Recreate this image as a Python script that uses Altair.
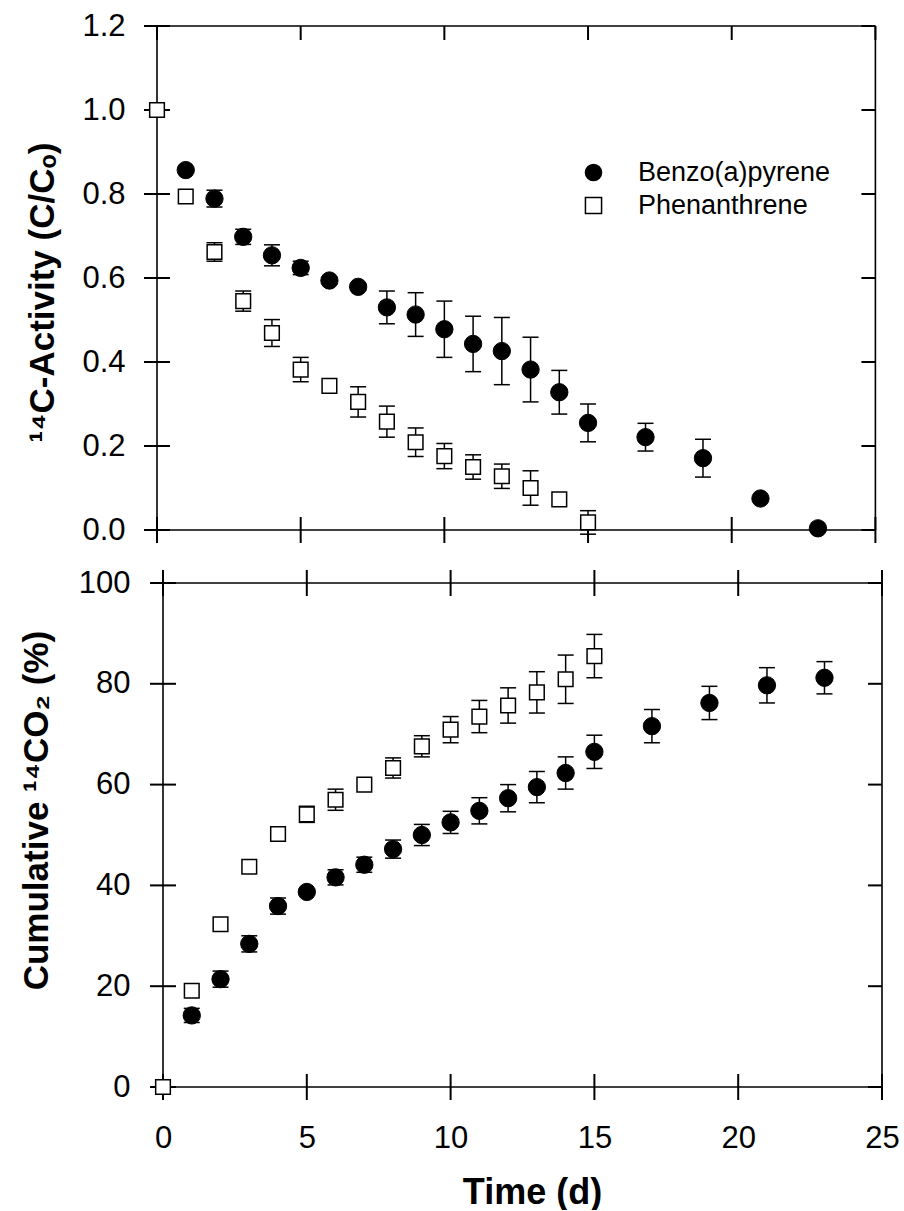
import altair as alt
import pandas as pd

SERIES = ["Benzo(a)pyrene", "Phenanthrene"]

# ---- top panel: 14C-activity (C/Co) ----
bap_top_days = [1, 2, 3, 4, 5, 6, 7, 8, 9, 10, 11, 12, 13, 14, 15, 17, 19, 21, 23]
bap_top_val = [0.857, 0.789, 0.698, 0.654, 0.624, 0.594, 0.579, 0.530, 0.513, 0.478,
               0.443, 0.426, 0.382, 0.328, 0.255, 0.221, 0.171, 0.075, 0.004]
bap_top_err = [0, 0.02, 0.018, 0.025, 0.016, 0.008, 0.008, 0.039, 0.052, 0.067,
               0.066, 0.080, 0.077, 0.052, 0.045, 0.033, 0.045, 0, 0]
phe_top_days = [0, 1, 2, 3, 4, 5, 6, 7, 8, 9, 10, 11, 12, 13, 14, 15]
phe_top_val = [1.0, 0.794, 0.662, 0.545, 0.469, 0.382, 0.343, 0.305, 0.258, 0.209,
               0.176, 0.150, 0.128, 0.100, 0.073, 0.018]
phe_top_err = [0, 0, 0.022, 0.024, 0.032, 0.029, 0, 0.036, 0.037, 0.034,
               0.030, 0.029, 0.029, 0.041, 0, 0.028]

# ---- bottom panel: cumulative 14CO2 (%) ----
bap_bot_days = [1, 2, 3, 4, 5, 6, 7, 8, 9, 10, 11, 12, 13, 14, 15, 17, 19, 21, 23]
bap_bot_val = [14.2, 21.4, 28.4, 35.9, 38.7, 41.6, 44.1, 47.2, 50.0, 52.5,
               54.8, 57.3, 59.5, 62.3, 66.5, 71.6, 76.2, 79.7, 81.2]
bap_bot_err = [1.4, 1.6, 1.6, 1.6, 0, 1.5, 1.5, 1.8, 2.1, 2.2,
               2.6, 2.7, 3.1, 3.2, 3.3, 3.3, 3.3, 3.5, 3.2]
phe_bot_days = [0, 1, 2, 3, 4, 5, 6, 7, 8, 9, 10, 11, 12, 13, 14, 15]
phe_bot_val = [0, 19.1, 32.3, 43.7, 50.2, 54.1, 57.0, 60.0, 63.3, 67.6,
               70.9, 73.5, 75.7, 78.3, 80.9, 85.5]
phe_bot_err = [0, 0, 0, 0, 0, 1.6, 2.1, 0, 2.0, 2.1, 2.6, 3.2, 3.5, 4.1, 4.8, 4.3]

x_ticks = [0, 5, 10, 15, 20, 25]
top_y_ticks = [0.0, 0.2, 0.4, 0.6, 0.8, 1.0, 1.2]
bot_y_ticks = [0, 20, 40, 60, 80, 100]

FONT = "Liberation Sans"
W, H = 725, 504

shape_scale = alt.Scale(domain=SERIES, range=["circle", "square"])
fill_scale = alt.Scale(domain=SERIES, range=["black", "white"])
stroke_scale = alt.Scale(domain=SERIES, range=["black", "black"])


def frame_df(ymax):
    return pd.DataFrame({
        "day": [0, 25, 0, 0], "day2": [0, 25, 25, 25],
        "value": [0, 0, 0, ymax], "value2": [ymax, ymax, 0, ymax],
    })


def make_df(days, vals, errs, series):
    df = pd.DataFrame({"day": days, "value": vals, "err": errs})
    df["lo"] = df["value"] - df["err"]
    df["hi"] = df["value"] + df["err"]
    df["series"] = series
    return df


def panel(bap, phe, ymax, yticks, xrange, yaxis, xaxis, legend, top_cross):
    xs = alt.Scale(domain=[0, 25], range=xrange, nice=False, zero=False)
    ys = alt.Scale(domain=[0, ymax], nice=False, zero=False)
    X = lambda f="day": alt.X(f"{f}:Q", scale=xs, axis=xaxis)
    Y = lambda f="value": alt.Y(f"{f}:Q", scale=ys, axis=yaxis)

    layers = []
    # frame
    layers.append(alt.Chart(frame_df(ymax)).mark_rule(color="black", strokeWidth=1.6)
                  .encode(x=X(), x2="day2:Q", y=Y(), y2="value2:Q"))
    # left ticks (crossing)
    left = pd.DataFrame({"day": [0] * len(yticks), "value": yticks})
    layers.append(alt.Chart(left).mark_rule(color="black", strokeWidth=2, xOffset=-13, x2Offset=13)
                  .encode(x=X(), x2="day:Q", y=Y()))
    # right ticks (inward)
    right = pd.DataFrame({"day": [25] * len(yticks), "value": yticks})
    layers.append(alt.Chart(right).mark_rule(color="black", strokeWidth=2, xOffset=-14, x2Offset=0)
                  .encode(x=X(), x2="day:Q", y=Y()))
    # bottom ticks (crossing)
    bot = pd.DataFrame({"day": x_ticks, "value": [0] * len(x_ticks)})
    layers.append(alt.Chart(bot).mark_rule(color="black", strokeWidth=2, yOffset=-13, y2Offset=13)
                  .encode(x=X(), y=Y(), y2="value:Q"))
    # top ticks
    top = pd.DataFrame({"day": x_ticks, "value": [ymax] * len(x_ticks)})
    if top_cross:
        layers.append(alt.Chart(top).mark_rule(color="black", strokeWidth=2, yOffset=-13, y2Offset=13)
                      .encode(x=X(), y=Y(), y2="value:Q"))
    else:
        layers.append(alt.Chart(top).mark_rule(color="black", strokeWidth=2, yOffset=0, y2Offset=14)
                      .encode(x=X(), y=Y(), y2="value:Q"))

    for df in (bap, phe):
        eb = df[df["err"] > 0]
        layers.append(alt.Chart(eb).mark_rule(color="black", strokeWidth=1.5)
                      .encode(x=X(), y=Y("lo"), y2="hi:Q"))
        layers.append(alt.Chart(eb).mark_rule(color="black", strokeWidth=1.5, xOffset=-8, x2Offset=8)
                      .encode(x=X(), x2="day:Q", y=Y("lo")))
        layers.append(alt.Chart(eb).mark_rule(color="black", strokeWidth=1.5, xOffset=-8, x2Offset=8)
                      .encode(x=X(), x2="day:Q", y=Y("hi")))

    for df, size, sw in ((bap, 300, 1), (phe, 215, 1.5)):
        layers.append(alt.Chart(df).mark_point(size=size, strokeWidth=sw,
                                                opacity=1, fillOpacity=1)
                      .encode(x=X(), y=Y(),
                              shape=alt.Shape("series:N", scale=shape_scale, legend=legend),
                              fill=alt.Fill("series:N", scale=fill_scale, legend=legend),
                              stroke=alt.Stroke("series:N", scale=stroke_scale, legend=legend)))
    return alt.layer(*layers).properties(width=W, height=H)


bap_t = make_df(bap_top_days, bap_top_val, bap_top_err, SERIES[0])
phe_t = make_df(phe_top_days, phe_top_val, phe_top_err, SERIES[1])
bap_b = make_df(bap_bot_days, bap_bot_val, bap_bot_err, SERIES[0])
phe_b = make_df(phe_bot_days, phe_bot_val, phe_bot_err, SERIES[1])

top_yaxis = alt.Axis(title="¹⁴C-Activity (C/Cₒ)", values=top_y_ticks, format=".1f",
                     ticks=False, domain=False, grid=False,
                     labelFont=FONT, labelFontSize=31, labelColor="black", labelPadding=32,
                     labelFlush=False, labelOverlap=False,
                     titleFont=FONT, titleFontSize=35, titleFontWeight="bold", titleColor="black",
                     titleAngle=270, titleAlign="center", titleBaseline="alphabetic",
                     titleX=-104, titleY=266)
bot_yaxis = alt.Axis(title="Cumulative ¹⁴CO₂ (%)", values=bot_y_ticks, format="d",
                     ticks=False, domain=False, grid=False,
                     labelFont=FONT, labelFontSize=31, labelColor="black", labelPadding=27,
                     labelFlush=False, labelOverlap=False,
                     titleFont=FONT, titleFontSize=35, titleFontWeight="bold", titleColor="black",
                     titleAngle=270, titleAlign="center", titleBaseline="alphabetic",
                     titleX=-110, titleY=227)
bot_xaxis = alt.Axis(title="Time (d)", values=x_ticks, format="d",
                     ticks=False, domain=False, grid=False,
                     labelFont=FONT, labelFontSize=31, labelColor="black", labelPadding=36,
                     labelFlush=False, labelOverlap=False,
                     titleFont=FONT, titleFontSize=36, titleFontWeight="bold", titleColor="black",
                     titleAlign="center", titleBaseline="alphabetic",
                     titleX=375, titleY=116)

legend = alt.Legend(title=None, orient="none", legendX=423, legendY=133, padding=0,
                    labelFont=FONT, labelFontSize=27, labelColor="black", labelOffset=31,
                    labelLimit=0,
                    symbolStrokeColor="black", symbolStrokeWidth=1.5, symbolSize=260,
                    symbolOpacity=1, rowPadding=5)

top_chart = panel(bap_t, phe_t, 1.2, top_y_ticks, [0, 718.4], top_yaxis, None, legend, False)
bot_chart = panel(bap_b, phe_b, 100, bot_y_ticks, [6, 725], bot_yaxis, bot_xaxis, None, True)

chart = alt.vconcat(top_chart, bot_chart, spacing=53, bounds="flush").properties(
    padding={"left": 19, "top": 10, "right": 0, "bottom": 0},
    background="white",
).configure_view(stroke=None)

chart.save("out.html", embed_options={"renderer": "svg", "actions": False})
